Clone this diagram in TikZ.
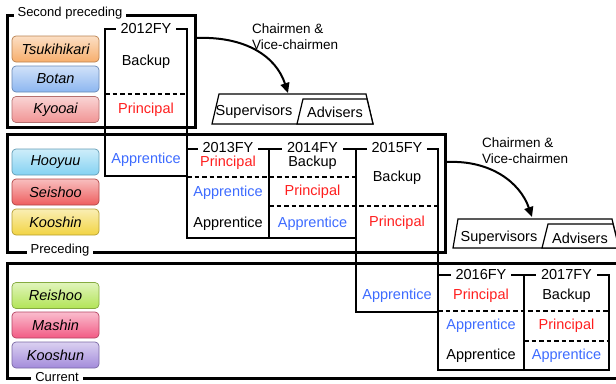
\documentclass[tikz,border=0pt]{standalone}
\usepackage{fontspec}
\setmainfont{Liberation Sans}
\usetikzlibrary{arrows.meta}
\definecolor{TenureRed}{HTML}{FF1E1E}
\definecolor{TenureBlue}{HTML}{3D6BFF}
\definecolor{MemberTsukihikari}{HTML}{F7AE6C}
\definecolor{MemberBotan}{HTML}{8CB6F0}
\definecolor{MemberKyooai}{HTML}{F19494}
\definecolor{MemberHooyuu}{HTML}{84D2F2}
\definecolor{MemberSeishoo}{HTML}{EE5E5E}
\definecolor{MemberKooshin}{HTML}{F2D443}
\definecolor{MemberReishoo}{HTML}{B2E456}
\definecolor{MemberMashin}{HTML}{F25A84}
\definecolor{MemberKooshun}{HTML}{A38BDB}
\tikzset{
    tenure/diagram/.style={
        x=1pt, y=-1pt,
        font=\fontsize{14.5}{16}\selectfont,
        line join=miter,
        every node/.style={inner sep=0pt}
    },
    tenure/frame/.style={draw=black, line width=3pt},
    tenure/framelabel/.style={
        fill=white, inner xsep=4pt, inner ysep=0pt,
        font=\fontsize{13}{15}\selectfont
    },
    tenure/year/.style={draw=black, line width=2pt},
    tenure/title/.style={fill=white, inner xsep=5pt, inner ysep=0pt},
    tenure/split/.style={
        draw=black, line width=1.8pt,
        dash pattern=on 4.5pt off 3pt
    },
    tenure/principal/.style={text=TenureRed},
    tenure/apprentice/.style={text=TenureBlue},
    tenure/backup/.style={text=black},
    tenure/member/.style={
        rounded corners=4pt, minimum width=87pt, minimum height=26pt,
        line width=0.7pt, draw=#1!75!black,
        top color=#1!40!white, bottom color=#1,
        font=\fontsize{14.5}{16}\selectfont\itshape
    },
    tenure/tab/.style={draw=black, fill=white, line width=1.2pt},
    tenure/note/.style={
        align=left, anchor=west,
        font=\fontsize{13.5}{16}\selectfont
    },
    tenure/move/.style={
        draw=black, line width=2pt,
        -{Triangle[length=10pt, width=9pt]}
    }
}

\begin{document}
\begin{tikzpicture}[tenure/diagram]
    \useasboundingbox (0,0) rectangle (616,383);
    \clip (0,0) rectangle (616,383);

    % generation frames
    \draw[tenure/frame] (7,15) rectangle (195,127);
    \draw[tenure/frame] (7,134) rectangle (445,252);
    \draw[tenure/frame] (7,263) rectangle (624,378);
    \node[tenure/framelabel] (secondlbl) at (70,13) {Second preceding};
    \node[tenure/framelabel] (precedinglbl) at (60,250) {Preceding};
    \node[tenure/framelabel] (currentlbl) at (57,377) {Current};

    % members
    \node[tenure/member=MemberTsukihikari] (tsukihikari) at (55.5,49) {Tsukihikari};
    \node[tenure/member=MemberBotan] (botan) at (55.5,79) {Botan};
    \node[tenure/member=MemberKyooai] (kyooai) at (55.5,109.5) {Kyooai};
    \node[tenure/member=MemberHooyuu] (hooyuu) at (55.5,162) {Hooyuu};
    \node[tenure/member=MemberSeishoo] (seishoo) at (55.5,192) {Seishoo};
    \node[tenure/member=MemberKooshin] (kooshin) at (55.5,222) {Kooshin};
    \node[tenure/member=MemberReishoo] (reishoo) at (55.5,295.5) {Reishoo};
    \node[tenure/member=MemberMashin] (mashin) at (55.5,325) {Mashin};
    \node[tenure/member=MemberKooshun] (kooshun) at (55.5,355) {Kooshun};

    % fiscal years
    \draw[tenure/year] (105,29) rectangle (187,176);
    \draw[tenure/year] (187,149) rectangle (269,238);
    \draw[tenure/year] (269,149) rectangle (356,238);
    \draw[tenure/year] (356,149) rectangle (438,312);
    \draw[tenure/year] (438,275) rectangle (524,370);
    \draw[tenure/year] (524,275) rectangle (609,370);
    \draw[tenure/split] (105,94) -- (187,94)
                        (187,177) -- (356,177)
                        (269,206) -- (438,206)
                        (438,311) -- (609,311)
                        (524,341) -- (609,341);
    \node[tenure/title] (fy12) at (146,29) {2012FY};
    \node[tenure/title] (fy13) at (228,148) {2013FY};
    \node[tenure/title] (fy14) at (312.5,148) {2014FY};
    \node[tenure/title] (fy15) at (397,148) {2015FY};
    \node[tenure/title] (fy16) at (481,275) {2016FY};
    \node[tenure/title] (fy17) at (566.5,275) {2017FY};

    \node[tenure/backup] (fy12b) at (146,62) {Backup};
    \node[tenure/principal] (fy12p) at (146,110) {Principal};
    \node[tenure/apprentice] (fy12a) at (146,160) {Apprentice};
    \node[tenure/principal] (fy13p) at (228,163) {Principal};
    \node[tenure/apprentice] (fy13a) at (228,193) {Apprentice};
    \node[tenure/backup] (fy13n) at (228,224) {Apprentice};
    \node[tenure/backup] (fy14b) at (312.5,163) {Backup};
    \node[tenure/principal] (fy14p) at (312.5,192) {Principal};
    \node[tenure/apprentice] (fy14a) at (312.5,224) {Apprentice};
    \node[tenure/backup] (fy15b) at (397,178) {Backup};
    \node[tenure/principal] (fy15p) at (397,223) {Principal};
    \node[tenure/apprentice] (fy15a) at (397,296) {Apprentice};
    \node[tenure/principal] (fy16p) at (481,296) {Principal};
    \node[tenure/apprentice] (fy16a) at (481,326) {Apprentice};
    \node[tenure/backup] (fy16n) at (481,356) {Apprentice};
    \node[tenure/backup] (fy17b) at (566.5,296) {Backup};
    \node[tenure/principal] (fy17p) at (566.5,326) {Principal};
    \node[tenure/apprentice] (fy17a) at (566.5,356) {Apprentice};

    % supervisors and advisers
    \draw[tenure/tab] (212,124) -- (219,94) -- (366,94) -- (373,124) -- cycle;
    \draw[tenure/tab] (297,124) -- (303,99) -- (367,99) -- (373,124) -- cycle;
    \node (sup1) at (254,112) {Supervisors};
    \node (adv1) at (335,112) {Advisers};
    \draw[tenure/tab] (453,248) -- (458,219) -- (612,219) -- (619,248) -- cycle;
    \draw[tenure/tab] (542,248) -- (548,224) -- (613,224) -- (619,248) -- cycle;
    \node (sup2) at (499,238) {Supervisors};
    \node (adv2) at (580,238) {Advisers};

    % promotion of chairmen
    \node[tenure/note] (chair1) at (252,37) {Chairmen \&\\Vice-chairmen};
    \node[tenure/note] (chair2) at (482,151) {Chairmen \&\\Vice-chairmen};
    \coordinate (out1) at (196,38);
    \coordinate (in1) at (288,93);
    \coordinate (out2) at (447,162);
    \coordinate (in2) at (532,217);
    \draw[tenure/move] (out1) .. controls (245,36) and (276,56) .. (in1);
    \draw[tenure/move] (out2) .. controls (490,160) and (520,182) .. (in2);
\end{tikzpicture}
\end{document}
